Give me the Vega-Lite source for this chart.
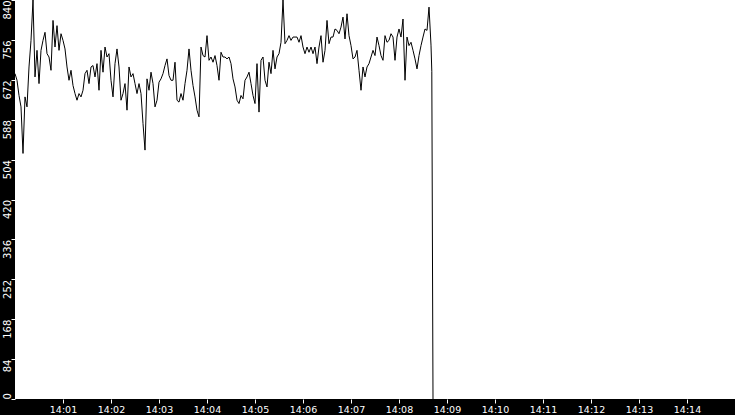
{
  "$schema": "https://vega.github.io/schema/vega-lite/v6.json",
  "width": 720,
  "height": 399,
  "autosize": "none",
  "padding": {"left": 15, "top": 0, "right": 0, "bottom": 16},
  "background": "black",
  "config": {"view": {"stroke": null, "fill": "white"}},
  "data": {"values": [
    {"t":"2024-01-01T14:00:00","v":685},{"t":"2024-01-01T14:00:02.5","v":671},{"t":"2024-01-01T14:00:05","v":639},{"t":"2024-01-01T14:00:07.5","v":615},
    {"t":"2024-01-01T14:00:10","v":517},{"t":"2024-01-01T14:00:12.5","v":636},{"t":"2024-01-01T14:00:15","v":615},{"t":"2024-01-01T14:00:17.5","v":699},
    {"t":"2024-01-01T14:00:20","v":755},{"t":"2024-01-01T14:00:22.5","v":840},{"t":"2024-01-01T14:00:25","v":678},{"t":"2024-01-01T14:00:27.5","v":734},
    {"t":"2024-01-01T14:00:30","v":664},{"t":"2024-01-01T14:00:32.5","v":734},{"t":"2024-01-01T14:00:35","v":755},{"t":"2024-01-01T14:00:37.5","v":772},
    {"t":"2024-01-01T14:00:40","v":727},{"t":"2024-01-01T14:00:42.5","v":720},{"t":"2024-01-01T14:00:45","v":692},{"t":"2024-01-01T14:00:47.5","v":797},
    {"t":"2024-01-01T14:00:50","v":741},{"t":"2024-01-01T14:00:52.5","v":786},{"t":"2024-01-01T14:00:55","v":734},{"t":"2024-01-01T14:00:57.5","v":769},
    {"t":"2024-01-01T14:01:00","v":755},{"t":"2024-01-01T14:01:02.5","v":737},{"t":"2024-01-01T14:01:05","v":699},{"t":"2024-01-01T14:01:07.5","v":671},
    {"t":"2024-01-01T14:01:10","v":692},{"t":"2024-01-01T14:01:12.5","v":660},{"t":"2024-01-01T14:01:15","v":643},{"t":"2024-01-01T14:01:17.5","v":629},
    {"t":"2024-01-01T14:01:20","v":643},{"t":"2024-01-01T14:01:22.5","v":636},{"t":"2024-01-01T14:01:25","v":650},{"t":"2024-01-01T14:01:27.5","v":685},
    {"t":"2024-01-01T14:01:30","v":692},{"t":"2024-01-01T14:01:32.5","v":664},{"t":"2024-01-01T14:01:35","v":699},{"t":"2024-01-01T14:01:37.5","v":702},
    {"t":"2024-01-01T14:01:40","v":678},{"t":"2024-01-01T14:01:42.5","v":706},{"t":"2024-01-01T14:01:45","v":650},{"t":"2024-01-01T14:01:47.5","v":734},
    {"t":"2024-01-01T14:01:50","v":688},{"t":"2024-01-01T14:01:52.5","v":741},{"t":"2024-01-01T14:01:55","v":720},{"t":"2024-01-01T14:01:57.5","v":727},
    {"t":"2024-01-01T14:02:00","v":671},{"t":"2024-01-01T14:02:02.5","v":636},{"t":"2024-01-01T14:02:05","v":706},{"t":"2024-01-01T14:02:07.5","v":737},
    {"t":"2024-01-01T14:02:10","v":699},{"t":"2024-01-01T14:02:12.5","v":629},{"t":"2024-01-01T14:02:15","v":643},{"t":"2024-01-01T14:02:17.5","v":664},
    {"t":"2024-01-01T14:02:20","v":608},{"t":"2024-01-01T14:02:22.5","v":699},{"t":"2024-01-01T14:02:25","v":678},{"t":"2024-01-01T14:02:27.5","v":685},
    {"t":"2024-01-01T14:02:30","v":664},{"t":"2024-01-01T14:02:32.5","v":643},{"t":"2024-01-01T14:02:35","v":664},{"t":"2024-01-01T14:02:37.5","v":643},
    {"t":"2024-01-01T14:02:40","v":580},{"t":"2024-01-01T14:02:42.5","v":524},{"t":"2024-01-01T14:02:45","v":674},{"t":"2024-01-01T14:02:47.5","v":650},
    {"t":"2024-01-01T14:02:50","v":688},{"t":"2024-01-01T14:02:52.5","v":664},{"t":"2024-01-01T14:02:55","v":615},{"t":"2024-01-01T14:02:57.5","v":629},
    {"t":"2024-01-01T14:03:00","v":667},{"t":"2024-01-01T14:03:02.5","v":674},{"t":"2024-01-01T14:03:05","v":685},{"t":"2024-01-01T14:03:07.5","v":702},
    {"t":"2024-01-01T14:03:10","v":716},{"t":"2024-01-01T14:03:12.5","v":681},{"t":"2024-01-01T14:03:15","v":671},{"t":"2024-01-01T14:03:17.5","v":671},
    {"t":"2024-01-01T14:03:20","v":709},{"t":"2024-01-01T14:03:22.5","v":629},{"t":"2024-01-01T14:03:25","v":625},{"t":"2024-01-01T14:03:27.5","v":643},
    {"t":"2024-01-01T14:03:30","v":629},{"t":"2024-01-01T14:03:32.5","v":664},{"t":"2024-01-01T14:03:35","v":692},{"t":"2024-01-01T14:03:37.5","v":737},
    {"t":"2024-01-01T14:03:40","v":692},{"t":"2024-01-01T14:03:42.5","v":660},{"t":"2024-01-01T14:03:45","v":636},{"t":"2024-01-01T14:03:47.5","v":608},
    {"t":"2024-01-01T14:03:50","v":594},{"t":"2024-01-01T14:03:52.5","v":741},{"t":"2024-01-01T14:03:55","v":723},{"t":"2024-01-01T14:03:57.5","v":720},
    {"t":"2024-01-01T14:04:00","v":765},{"t":"2024-01-01T14:04:02.5","v":713},{"t":"2024-01-01T14:04:05","v":720},{"t":"2024-01-01T14:04:07.5","v":709},
    {"t":"2024-01-01T14:04:10","v":723},{"t":"2024-01-01T14:04:12.5","v":702},{"t":"2024-01-01T14:04:15","v":671},{"t":"2024-01-01T14:04:17.5","v":730},
    {"t":"2024-01-01T14:04:20","v":720},{"t":"2024-01-01T14:04:22.5","v":720},{"t":"2024-01-01T14:04:25","v":716},{"t":"2024-01-01T14:04:27.5","v":720},
    {"t":"2024-01-01T14:04:30","v":706},{"t":"2024-01-01T14:04:32.5","v":674},{"t":"2024-01-01T14:04:35","v":657},{"t":"2024-01-01T14:04:37.5","v":629},
    {"t":"2024-01-01T14:04:40","v":622},{"t":"2024-01-01T14:04:42.5","v":639},{"t":"2024-01-01T14:04:45","v":632},{"t":"2024-01-01T14:04:47.5","v":671},
    {"t":"2024-01-01T14:04:50","v":678},{"t":"2024-01-01T14:04:52.5","v":688},{"t":"2024-01-01T14:04:55","v":664},{"t":"2024-01-01T14:04:57.5","v":639},
    {"t":"2024-01-01T14:05:00","v":622},{"t":"2024-01-01T14:05:02.5","v":706},{"t":"2024-01-01T14:05:05","v":604},{"t":"2024-01-01T14:05:07.5","v":713},
    {"t":"2024-01-01T14:05:10","v":720},{"t":"2024-01-01T14:05:12.5","v":671},{"t":"2024-01-01T14:05:15","v":657},{"t":"2024-01-01T14:05:17.5","v":709},
    {"t":"2024-01-01T14:05:20","v":685},{"t":"2024-01-01T14:05:22.5","v":734},{"t":"2024-01-01T14:05:25","v":695},{"t":"2024-01-01T14:05:27.5","v":720},
    {"t":"2024-01-01T14:05:30","v":727},{"t":"2024-01-01T14:05:32.5","v":751},{"t":"2024-01-01T14:05:35","v":840},{"t":"2024-01-01T14:05:37.5","v":748},
    {"t":"2024-01-01T14:05:40","v":755},{"t":"2024-01-01T14:05:42.5","v":765},{"t":"2024-01-01T14:05:45","v":755},{"t":"2024-01-01T14:05:47.5","v":762},
    {"t":"2024-01-01T14:05:50","v":762},{"t":"2024-01-01T14:05:52.5","v":762},{"t":"2024-01-01T14:05:55","v":751},{"t":"2024-01-01T14:05:57.5","v":765},
    {"t":"2024-01-01T14:06:00","v":741},{"t":"2024-01-01T14:06:02.5","v":727},{"t":"2024-01-01T14:06:05","v":741},{"t":"2024-01-01T14:06:07.5","v":730},
    {"t":"2024-01-01T14:06:10","v":741},{"t":"2024-01-01T14:06:12.5","v":727},{"t":"2024-01-01T14:06:15","v":741},{"t":"2024-01-01T14:06:17.5","v":706},
    {"t":"2024-01-01T14:06:20","v":741},{"t":"2024-01-01T14:06:22.5","v":765},{"t":"2024-01-01T14:06:25","v":709},{"t":"2024-01-01T14:06:27.5","v":734},
    {"t":"2024-01-01T14:06:30","v":797},{"t":"2024-01-01T14:06:32.5","v":748},{"t":"2024-01-01T14:06:35","v":762},{"t":"2024-01-01T14:06:37.5","v":762},
    {"t":"2024-01-01T14:06:40","v":779},{"t":"2024-01-01T14:06:42.5","v":776},{"t":"2024-01-01T14:06:45","v":769},{"t":"2024-01-01T14:06:47.5","v":783},
    {"t":"2024-01-01T14:06:50","v":804},{"t":"2024-01-01T14:06:52.5","v":758},{"t":"2024-01-01T14:06:55","v":811},{"t":"2024-01-01T14:06:57.5","v":765},
    {"t":"2024-01-01T14:07:00","v":744},{"t":"2024-01-01T14:07:02.5","v":716},{"t":"2024-01-01T14:07:05","v":720},{"t":"2024-01-01T14:07:07.5","v":734},
    {"t":"2024-01-01T14:07:10","v":692},{"t":"2024-01-01T14:07:12.5","v":650},{"t":"2024-01-01T14:07:15","v":699},{"t":"2024-01-01T14:07:17.5","v":678},
    {"t":"2024-01-01T14:07:20","v":699},{"t":"2024-01-01T14:07:22.5","v":706},{"t":"2024-01-01T14:07:25","v":720},{"t":"2024-01-01T14:07:27.5","v":734},
    {"t":"2024-01-01T14:07:30","v":723},{"t":"2024-01-01T14:07:32.5","v":762},{"t":"2024-01-01T14:07:35","v":744},{"t":"2024-01-01T14:07:37.5","v":723},
    {"t":"2024-01-01T14:07:40","v":713},{"t":"2024-01-01T14:07:42.5","v":765},{"t":"2024-01-01T14:07:45","v":751},{"t":"2024-01-01T14:07:47.5","v":755},
    {"t":"2024-01-01T14:07:50","v":769},{"t":"2024-01-01T14:07:52.5","v":762},{"t":"2024-01-01T14:07:55","v":713},{"t":"2024-01-01T14:07:57.5","v":762},
    {"t":"2024-01-01T14:08:00","v":779},{"t":"2024-01-01T14:08:02.5","v":762},{"t":"2024-01-01T14:08:05","v":800},{"t":"2024-01-01T14:08:07.5","v":671},
    {"t":"2024-01-01T14:08:10","v":762},{"t":"2024-01-01T14:08:12.5","v":744},{"t":"2024-01-01T14:08:15","v":751},{"t":"2024-01-01T14:08:17.5","v":734},
    {"t":"2024-01-01T14:08:20","v":716},{"t":"2024-01-01T14:08:22.5","v":695},{"t":"2024-01-01T14:08:25","v":723},{"t":"2024-01-01T14:08:27.5","v":744},
    {"t":"2024-01-01T14:08:30","v":762},{"t":"2024-01-01T14:08:32.5","v":779},{"t":"2024-01-01T14:08:35","v":776},{"t":"2024-01-01T14:08:37.5","v":825},
    {"t":"2024-01-01T14:08:40","v":745},{"t":"2024-01-01T14:08:41","v":690},{"t":"2024-01-01T14:08:41.8","v":320},{"t":"2024-01-01T14:08:42.5","v":0}
  ]},
  "mark": {"type": "line", "color": "black", "strokeWidth": 1, "clip": true},
  "encoding": {
    "x": {
      "field": "t", "type": "temporal",
      "scale": {"domain": [
        {"year": 2024, "month": 1, "date": 1, "hours": 14, "minutes": 0},
        {"year": 2024, "month": 1, "date": 1, "hours": 14, "minutes": 15}
      ], "nice": false},
      "axis": {
        "title": null, "format": "%H:%M", "domain": false, "grid": false,
        "values": [
          {"year": 2024, "month": 1, "date": 1, "hours": 14, "minutes": 1},
          {"year": 2024, "month": 1, "date": 1, "hours": 14, "minutes": 2},
          {"year": 2024, "month": 1, "date": 1, "hours": 14, "minutes": 3},
          {"year": 2024, "month": 1, "date": 1, "hours": 14, "minutes": 4},
          {"year": 2024, "month": 1, "date": 1, "hours": 14, "minutes": 5},
          {"year": 2024, "month": 1, "date": 1, "hours": 14, "minutes": 6},
          {"year": 2024, "month": 1, "date": 1, "hours": 14, "minutes": 7},
          {"year": 2024, "month": 1, "date": 1, "hours": 14, "minutes": 8},
          {"year": 2024, "month": 1, "date": 1, "hours": 14, "minutes": 9},
          {"year": 2024, "month": 1, "date": 1, "hours": 14, "minutes": 10},
          {"year": 2024, "month": 1, "date": 1, "hours": 14, "minutes": 11},
          {"year": 2024, "month": 1, "date": 1, "hours": 14, "minutes": 12},
          {"year": 2024, "month": 1, "date": 1, "hours": 14, "minutes": 13},
          {"year": 2024, "month": 1, "date": 1, "hours": 14, "minutes": 14}
        ],
        "tickColor": "white", "tickSize": 4, "tickWidth": 1,
        "labelColor": "white", "labelFont": "DejaVu Sans", "labelFontSize": 9.5,
        "labelPadding": 1, "labelFlush": false, "labelOverlap": false
      }
    },
    "y": {
      "field": "v", "type": "quantitative",
      "scale": {"domain": [0, 840], "nice": false, "zero": true},
      "axis": {
        "title": null, "domain": false, "grid": false,
        "values": [0, 84, 168, 252, 336, 420, 504, 588, 672, 756, 840],
        "tickColor": "white", "tickSize": 4, "tickWidth": 1,
        "labelColor": "white", "labelFont": "DejaVu Sans", "labelFontSize": 10,
        "labelAngle": 270,
        "labelAlign": {"condition": {"test": "datum.value == 0", "value": "left"}, "value": "right"},
        "labelBaseline": "alphabetic",
        "labelPadding": 1, "labelFlush": false, "labelOverlap": false, "labelBound": false
      }
    }
  }
}
